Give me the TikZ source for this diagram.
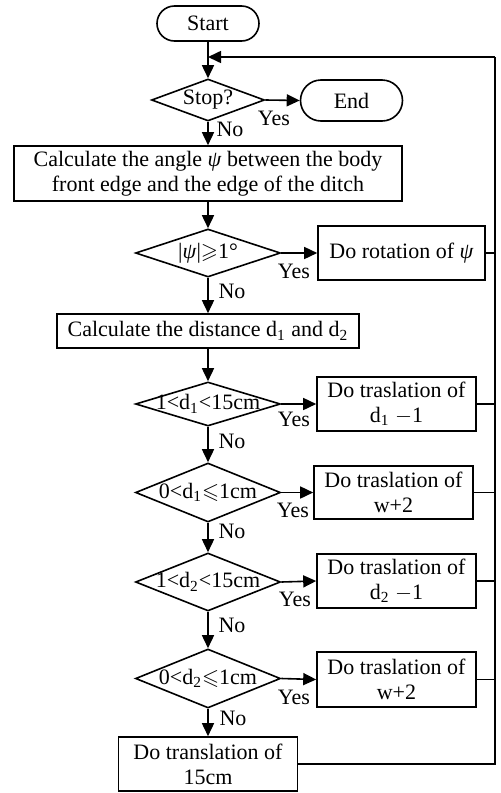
\documentclass[tikz,border=0pt]{standalone}
\usepackage{amssymb}
\usepackage{fontspec}
\setmainfont{Liberation Serif}
\usetikzlibrary{shapes.geometric,arrows.meta}

\newcommand{\psiang}{\textit{ψ}}

\tikzset{
  process/.style={draw, line width=0.8pt, align=center, inner sep=1pt},
  terminal/.style={draw, line width=0.8pt, minimum width=51pt, minimum height=#1, rounded corners=0.5*#1},
  decision/.style={draw, diamond, line width=0.8pt, inner sep=0pt, minimum width=72.5pt, minimum height=#1},
  flow/.style={line width=0.8pt, -{Triangle[length=6.5pt,width=6pt]}},
  link/.style={line width=0.8pt}
}

\begin{document}
\begin{tikzpicture}[x=0.5pt, y=-0.5pt, every node/.style={font=\fontsize{11}{12.5}\selectfont}]
    \useasboundingbox (0,0) rectangle (500,793);

    % Start and stop test
    \node[terminal=17.5pt] (start) at (208,23.5) {Start};
    \node[decision=21pt, minimum width=56.5pt, label=center:Stop?] (stop) at (208,100) {};
    \node[terminal=20.5pt] (end) at (351.5,100.5) {End};

    % Angle correction
    \node[process, minimum width=194pt, minimum height=27.5pt] (angle) at (208,173.5)
        {Calculate the angle \psiang{} between the body\\front edge and the edge of the ditch};
    \node[decision=24pt, label={center:{|\psiang|$\geqslant$1°}}] (psi) at (208,253) {};
    \node[process, minimum width=83.5pt, minimum height=27pt] (rot) at (401.5,253) {Do rotation of \psiang};

    % Distance checks
    \node[process, minimum width=151pt, minimum height=17pt] (dist) at (208,331)
        {Calculate the distance d\textsubscript{1} and d\textsubscript{2}};
    \node[decision=22pt, label={center:{1<d\textsubscript{1}<15cm}}] (dA) at (208,404) {};
    \node[decision=29.5pt, label={center:{0<d\textsubscript{1}$\leqslant$1cm}}] (dB) at (208,492.5) {};
    \node[decision=29pt, label={center:{1<d\textsubscript{2}<15cm}}] (dC) at (208,582) {};
    \node[decision=29.5pt, label={center:{0<d\textsubscript{2}$\leqslant$1cm}}] (dD) at (208,678.5) {};

    \node[process, minimum width=79.5pt, minimum height=27pt] (moveA) at (396.5,404)
        {Do traslation of\\d\textsubscript{1} $-$1};
    \node[process, minimum width=79.5pt, minimum height=26.5pt] (moveB) at (393.5,492.5)
        {Do traslation of\\w+2};
    \node[process, minimum width=79.5pt, minimum height=27pt] (moveC) at (396.5,581)
        {Do traslation of\\d\textsubscript{2} $-$1};
    \node[process, minimum width=79.5pt, minimum height=27.5pt] (moveD) at (396.5,679.5)
        {Do traslation of\\w+2};
    \node[process, minimum width=89.5pt, minimum height=27pt] (final) at (208,764)
        {Do translation of\\15cm};

    % Yes and No labels
    \node (yes1) at (274,118) {Yes};
    \node (no1) at (230,129) {No};
    \node (yes2) at (294,271) {Yes};
    \node (no2) at (232,291) {No};
    \node (yes3) at (294,419) {Yes};
    \node (no3) at (232,441) {No};
    \node (yes4) at (293,510) {Yes};
    \node (no4) at (232,531) {No};
    \node (yes5) at (295,599) {Yes};
    \node (no5) at (232,625) {No};
    \node (yes6) at (294,697) {Yes};
    \node (no6) at (233,718) {No};

    % Main column
    \draw[flow] (start.south) -- (stop.north);
    \draw[flow] (stop.east) -- (end.west);
    \draw[flow] (stop.south) -- (angle.north);
    \draw[flow] (angle.south) -- (psi.north);
    \draw[flow] (psi.east) -- (rot.west);
    \draw[flow] (psi.south) -- (dist.north);
    \draw[flow] (dist.south) -- (dA.north);
    \draw[flow] (dA.south) -- (dB.north);
    \draw[flow] (dB.south) -- (dC.north);
    \draw[flow] (dC.south) -- (dD.north);
    \draw[flow] (dD.south) -- (final.north);
    \draw[flow] (dA.east) -- (moveA.west);
    \draw[flow] (dB.east) -- (moveB.west);
    \draw[flow] (dC.east) -- (moveC.west);
    \draw[flow] (dD.east) -- (moveD.west);

    % Feedback loop
    \coordinate (back) at (495,57);
    \coordinate (join) at (208,57);
    \draw[link] (final.east) -- (final.east -| back) -- (back);
    \draw[flow] (back) -- (join);
    \foreach \act in {rot,moveA,moveB,moveC,moveD}
        \draw[link] (\act.east) -- (\act.east -| back);

\end{tikzpicture}
\end{document}
